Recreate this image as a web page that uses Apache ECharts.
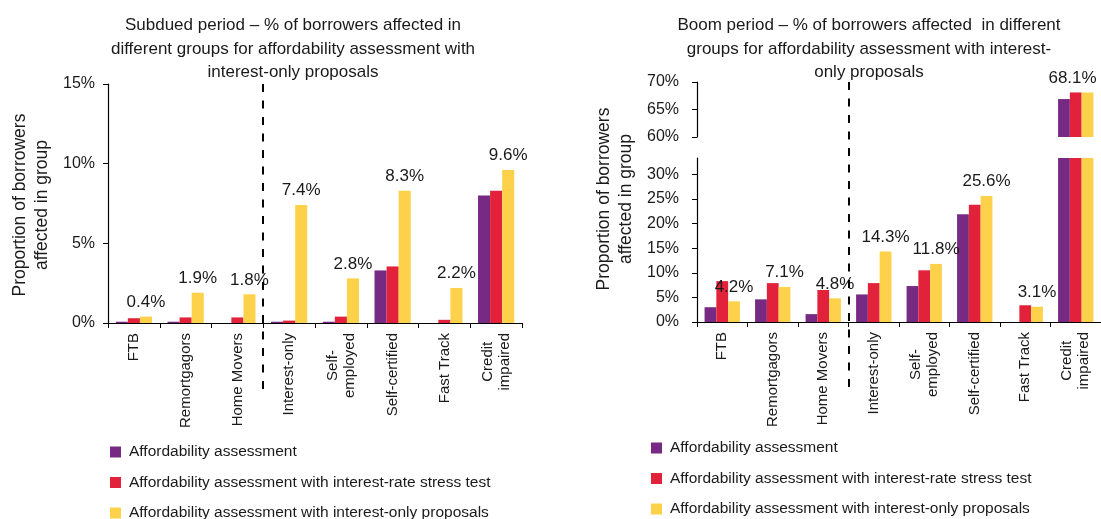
<!DOCTYPE html>
<html>
<head>
<meta charset="utf-8">
<script src="https://cdn.jsdelivr.net/npm/echarts@6/dist/echarts.min.js"></script>
<style>
  html, body { margin: 0; padding: 0; background: #ffffff; }
  #chart { width: 1101px; height: 519px; }
</style>
</head>
<body>
<div id="chart"></div>
<script>
// Borrower groups along the horizontal axis
const categories = ['FTB', 'Remortgagors', 'Home Movers', 'Interest-only', 'Self-\nemployed', 'Self-certified', 'Fast Track', 'Credit\nimpaired'];

// Series names (legend)
const seriesNames = [
  'Affordability assessment',
  'Affordability assessment with interest-rate stress test',
  'Affordability assessment with interest-only proposals'
];

// Subdued period, % of borrowers affected
const subduedAffordability = [0.08, 0.08, 0, 0.08, 0.08, 3.3, 0, 8.0];
const subduedStress        = [0.3, 0.35, 0.35, 0.15, 0.4, 3.55, 0.2, 8.3];
const subduedInterestOnly  = [0.4, 1.9, 1.8, 7.4, 2.8, 8.3, 2.2, 9.6];

// Boom period, % of borrowers affected
const boomAffordability = [3.0, 4.6, 1.6, 5.6, 7.3, 21.9, 0, 66.9];
const boomStress        = [8.3, 7.9, 6.5, 7.9, 10.5, 23.8, 3.4, 68.1];
const boomInterestOnly  = [4.2, 7.1, 4.8, 14.3, 11.8, 25.6, 3.1, 68.1];

// Axis ticks
const subduedTicks   = [0, 5, 10, 15];
const boomLowerTicks = [0, 5, 10, 15, 20, 25, 30];
const boomUpperTicks = [60, 65, 70];
const boomLowerMax   = 33.3;   // top of the lower (broken) segment

// Divider sits between these two groups
const dividerBetween = ['Home Movers', 'Interest-only'];

const titles = [
  'Subdued period – % of borrowers affected in\ndifferent groups for affordability assessment with\ninterest-only proposals',
  'Boom period – % of borrowers affected  in different\ngroups for affordability assessment with interest-\nonly proposals'
];
const yName = 'Proportion of borrowers\naffected in group';

const colors = ['#772a83', '#e2223a', '#fdd24a'];
const FONT = '"Liberation Sans", Arial, Helvetica, sans-serif';
const TEXT = '#1a1a1a';
const CAT_FONT_SIZE = 15;

const pct = v => v + '%';

// Two-line category names: each line is centred within the block by
// padding the shorter line on the side that faces the axis.
const measureCtx = document.createElement('canvas').getContext('2d');
measureCtx.font = CAT_FONT_SIZE + 'px "Liberation Sans", Arial, sans-serif';
const catRich = {};
const catFormat = {};
categories.forEach((c, i) => {
  const lines = c.split('\n');
  if (lines.length > 1) {
    const widths = lines.map(l => measureCtx.measureText(l).width);
    const w = Math.max(...widths);
    catFormat[c] = lines.map((l, j) => {
      const key = 'c' + i + '_' + j;
      catRich[key] = {
        fontSize: CAT_FONT_SIZE, lineHeight: 17, color: TEXT, fontFamily: FONT,
        padding: [0, (w - widths[j]) / 2, 0, 0]
      };
      return '{' + key + '|' + l + '}';
    }).join('\n');
  }
});

function xAxisFor(gridIndex, show) {
  return {
    type: 'category', gridIndex: gridIndex, data: categories, show: show,
    axisLine: { lineStyle: { color: '#000', width: 1.2 } },
    axisTick: { show: true, length: 5, lineStyle: { color: '#000' } },
    axisLabel: {
      rotate: 90, margin: 10, fontSize: CAT_FONT_SIZE, color: TEXT, fontFamily: FONT, lineHeight: 17, interval: 0,
      formatter: v => catFormat[v] || v, rich: catRich
    }
  };
}

function yAxisFor(gridIndex, min, max, ticks, margin, interval) {
  return {
    type: 'value', gridIndex: gridIndex, min: min, max: max, interval: interval,
    splitLine: { show: false },
    axisLine: { show: true, lineStyle: { color: '#000', width: 1.2 } },
    axisTick: { show: true, length: 5, lineStyle: { color: '#000' }, customValues: ticks },
    axisLabel: { fontSize: 16, color: TEXT, fontFamily: FONT, margin: margin, formatter: pct, customValues: ticks }
  };
}

const valueLabel = (offset) => ({
  show: true, position: 'top', distance: 6, offset: offset || [0, 0],
  fontSize: 17, color: TEXT, fontFamily: FONT,
  formatter: p => p.value.toFixed(1) + '%'
});

function barSeries(name, data, xi, yi, color, label) {
  const s = {
    name: name, type: 'bar', xAxisIndex: xi, yAxisIndex: yi, data: data,
    itemStyle: { color: color }, barGap: '0%', barCategoryGap: '30%',
    emphasis: { disabled: true }, animation: false
  };
  if (label) s.label = label;
  return s;
}

// Lower broken segment: bars taller than the segment are clipped and not labelled
const lowerData = arr => arr.map(v => v > boomLowerMax ? { value: v, label: { show: false } } : v);
// Upper broken segment: only bars that reach it
const upperData = arr => arr.map(v => v >= boomUpperTicks[0] ? v : '-');

const legendFor = (left, top) => ({
  orient: 'vertical', left: left, top: top, height: 100, data: seriesNames,
  icon: 'rect', itemWidth: 11, itemHeight: 11, itemGap: 14.5,
  selectedMode: false,
  textStyle: { fontSize: 15.5, color: TEXT, fontFamily: FONT, lineHeight: 16, padding: [0, 0, 0, 3] }
});

const option = {
  animation: false,
  textStyle: { fontFamily: FONT },
  title: [
    { text: titles[0], left: 288, top: 9, textAlign: 'center',
      textStyle: { fontSize: 17, fontWeight: 'normal', color: TEXT, lineHeight: 23.5, fontFamily: FONT } },
    { text: titles[1], left: 864, top: 9, textAlign: 'center',
      textStyle: { fontSize: 17, fontWeight: 'normal', color: TEXT, lineHeight: 23.5, fontFamily: FONT } }
  ],
  legend: [legendFor(105, 439), legendFor(646, 435)],
  grid: [
    { left: 108, top: 84, width: 414, height: 239 },
    { left: 697, top: 82, width: 410, height: 55 },
    { left: 697, top: 158, width: 410, height: 164 }
  ],
  xAxis: [xAxisFor(0, true), xAxisFor(1, false), xAxisFor(2, true)],
  yAxis: [
    yAxisFor(0, 0, subduedTicks[subduedTicks.length - 1], subduedTicks, 13, 5),
    yAxisFor(1, boomUpperTicks[0], boomUpperTicks[boomUpperTicks.length - 1], boomUpperTicks, 18, 5),
    yAxisFor(2, 0, boomLowerMax, boomLowerTicks, 18, 5)
  ],
  series: [
    barSeries(seriesNames[0], subduedAffordability, 0, 0, colors[0]),
    barSeries(seriesNames[1], subduedStress, 0, 0, colors[1]),
    barSeries(seriesNames[2], subduedInterestOnly, 0, 0, colors[2], valueLabel()),

    barSeries(seriesNames[0], upperData(boomAffordability), 1, 1, colors[0]),
    barSeries(seriesNames[1], upperData(boomStress), 1, 1, colors[1]),
    barSeries(seriesNames[2], upperData(boomInterestOnly), 1, 1, colors[2], valueLabel([-15, 0])),

    barSeries(seriesNames[0], lowerData(boomAffordability), 2, 2, colors[0]),
    barSeries(seriesNames[1], lowerData(boomStress), 2, 2, colors[1]),
    barSeries(seriesNames[2], lowerData(boomInterestOnly), 2, 2, colors[2], valueLabel())
  ]
};

const chart = echarts.init(document.getElementById('chart'), null, { renderer: 'canvas' });
chart.setOption(option);

// Dashed divider between the standard and the riskier borrower groups,
// running from the top of the value axis down through the category labels.
function divider(xAxisIndex, yAxisIndex, topValue, drop) {
  const xa = chart.convertToPixel({ xAxisIndex: xAxisIndex }, dividerBetween[0]);
  const xb = chart.convertToPixel({ xAxisIndex: xAxisIndex }, dividerBetween[1]);
  const x = Math.round((xa + xb) / 2);
  const yTop = chart.convertToPixel({ yAxisIndex: yAxisIndex }, topValue);
  const yBase = chart.convertToPixel({ yAxisIndex: xAxisIndex === 0 ? 0 : 2 }, 0);
  return {
    type: 'line', silent: true, z: 10,
    shape: { x1: x, y1: yTop, x2: x, y2: yBase + drop },
    style: { stroke: '#000', lineWidth: 2, lineDash: [8, 8.5] }
  };
}

function axisName(x, y) {
  return {
    type: 'text', x: x, y: y, rotation: Math.PI / 2, silent: true,
    style: { text: yName, fill: TEXT, font: '17.5px ' + FONT, align: 'center', verticalAlign: 'middle', lineHeight: 22 }
  };
}

chart.setOption({
  graphic: [
    divider(0, 0, subduedTicks[subduedTicks.length - 1], 71),
    divider(2, 1, boomUpperTicks[boomUpperTicks.length - 1], 65),
    axisName(31, 205),
    axisName(615, 199)
  ]
});
</script>
</body>
</html>
